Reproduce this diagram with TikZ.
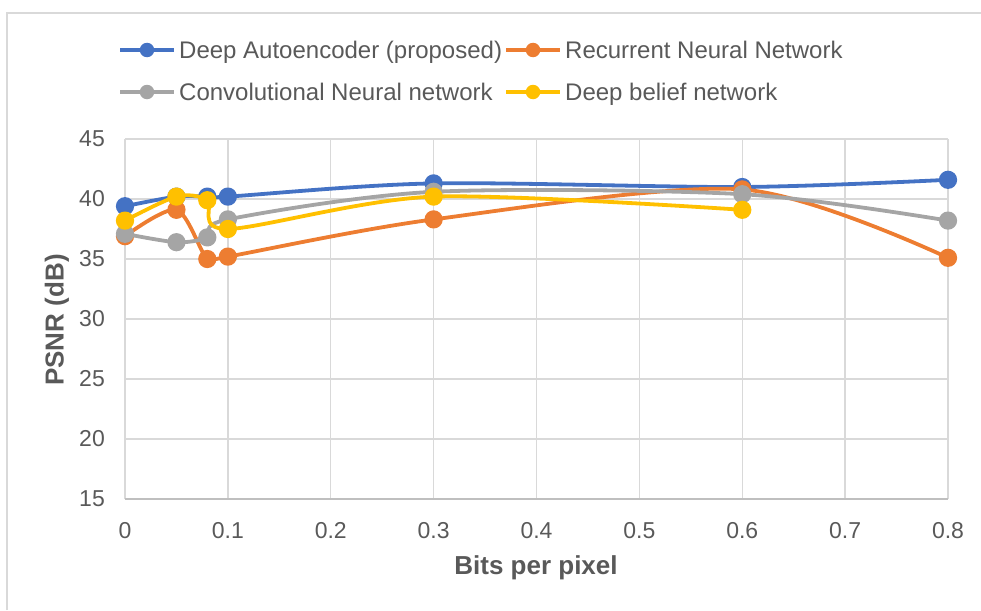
\documentclass[tikz,border=0pt]{standalone}
\usepackage{fontspec}
\setmainfont{Liberation Sans}
\usetikzlibrary{positioning}
\definecolor{autoblue}{HTML}{4472C4}
\definecolor{rnnorange}{HTML}{ED7D31}
\definecolor{cnngray}{HTML}{A5A5A5}
\definecolor{dbnyellow}{HTML}{FFC000}
\definecolor{gridgray}{HTML}{D9D9D9}
\definecolor{axisgray}{HTML}{BFBFBF}
\definecolor{labelgray}{HTML}{595959}

\tikzset{
  gridline/.style={gridgray, line width=1.3pt},
  series/.style={#1, line width=3.8pt, line join=round},
  dotmark/.style={circle, fill=#1, inner sep=0pt, minimum size=14.5pt},
  ticklab/.style={text=labelgray, inner sep=0pt},
  legtext/.style={text=labelgray, inner sep=0pt, anchor=west, text height=17pt, text depth=0pt,
    font=\fontsize{24}{28}\selectfont}
}

\begin{document}
\begin{tikzpicture}[x=1pt, y=-1pt, font=\fontsize{23}{27}\selectfont]
\useasboundingbox (0,0) rectangle (981,610);
% rahmen
\draw[gridgray, line width=1.5pt] (7,610) -- (7,13) -- (981,13);

% legende
\coordinate (aL) at (120,50);  \coordinate (aR) at (174,50);
\coordinate (bL) at (506,50);  \coordinate (bR) at (560,50);
\coordinate (cL) at (120,92);  \coordinate (cR) at (174,92);
\coordinate (dL) at (506,92);  \coordinate (dR) at (560,92);
\draw[series=autoblue] (aL) -- (aR);
\node[dotmark=autoblue] (aM) at (147,50) {};
\node[legtext, right=5pt of aR] (aT) {Deep Autoencoder (proposed)};
\draw[series=rnnorange] (bL) -- (bR);
\node[dotmark=rnnorange] (bM) at (533,50) {};
\node[legtext, right=5pt of bR] (bT) {Recurrent Neural Network};
\draw[series=cnngray] (cL) -- (cR);
\node[dotmark=cnngray] (cM) at (147,92) {};
\node[legtext, right=5pt of cR] (cT) {Convolutional Neural network};
\draw[series=dbnyellow] (dL) -- (dR);
\node[dotmark=dbnyellow] (dM) at (533,92) {};
\node[legtext, right=5pt of dR] (dT) {Deep belief network};

% achsentitel
\node[text=labelgray, font=\fontsize{26}{30}\bfseries, rotate=90] (ytitle) at (57,320) {PSNR (dB)};
\node[text=labelgray, font=\fontsize{26}{30}\bfseries] (xtitle) at (536,568) {Bits per pixel};

% diagramm
\begin{scope}[shift={(125,679)}, x={(1028.75pt,0pt)}, y={(0pt,12pt)}]
\foreach \yv in {20,25,...,45}
  \draw[gridline] (0,\yv) -- (0.8,\yv);
\foreach \i in {0,...,8}
  \draw[gridline] (\i/10,15) -- (\i/10,45);
\draw[axisgray, line width=1.3pt] (0,15) -- (0.8,15);

\foreach \yv in {15,20,...,45}
  \node[ticklab, anchor=east, xshift=-20pt] (yl\yv) at (0,\yv) {\yv};
\foreach \i/\lab in {0/0,1/0.1,2/0.2,3/0.3,4/0.4,5/0.5,6/0.6,7/0.7,8/0.8}
  \node[ticklab, yshift=-32pt] (xl\i) at (\i/10,15) {\lab};

\draw[series=autoblue] plot[smooth, mark=*, mark size=7.2pt, mark options={fill=autoblue, draw=none}]
  coordinates {(0,39.4) (0.05,40.2) (0.08,40.2) (0.1,40.2) (0.3,41.3) (0.6,41.0) (0.8,41.6)};
\draw[series=rnnorange] plot[smooth, mark=*, mark size=7.2pt, mark options={fill=rnnorange, draw=none}]
  coordinates {(0,36.9) (0.05,39.1) (0.08,35.0) (0.1,35.2) (0.3,38.3) (0.6,40.8) (0.8,35.1)};
\draw[series=cnngray] plot[smooth, mark=*, mark size=7.2pt, mark options={fill=cnngray, draw=none}]
  coordinates {(0,37.1) (0.05,36.4) (0.08,36.8) (0.1,38.3) (0.3,40.6) (0.6,40.4) (0.8,38.2)};
\draw[series=dbnyellow] plot[smooth, mark=*, mark size=7.2pt, mark options={fill=dbnyellow, draw=none}]
  coordinates {(0,38.2) (0.05,40.2) (0.08,39.9) (0.1,37.5) (0.3,40.2) (0.6,39.1)};
\end{scope}
\end{tikzpicture}
\end{document}
